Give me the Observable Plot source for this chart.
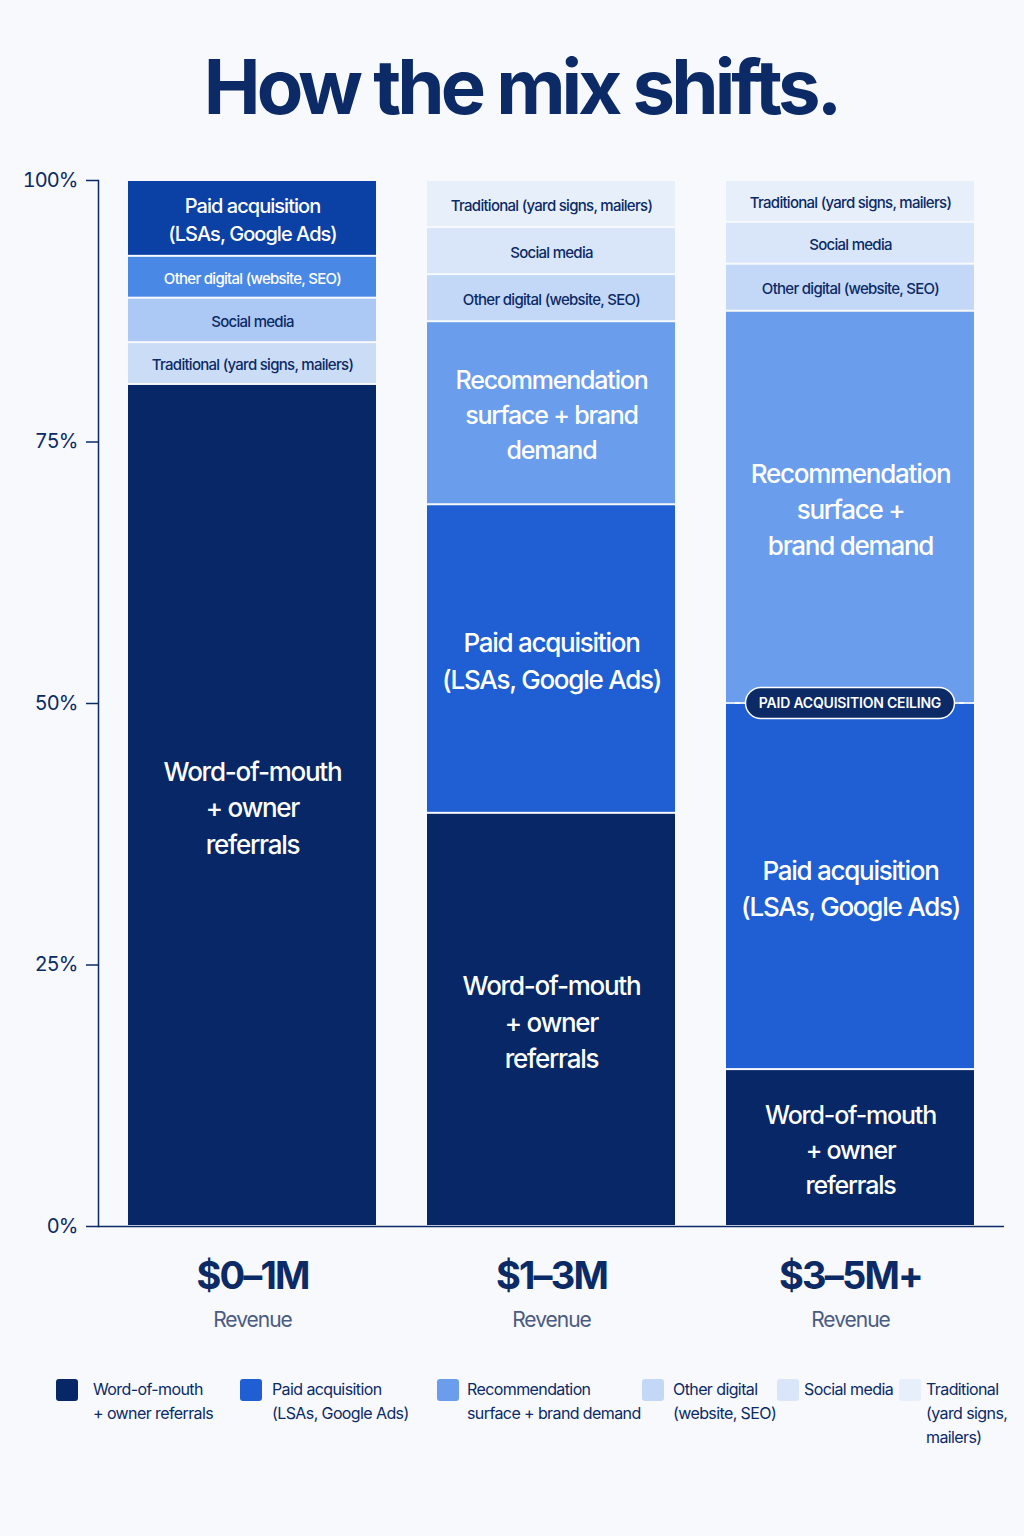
<!DOCTYPE html>
<html>
<head>
<meta charset="utf-8">
<script src="https://cdn.jsdelivr.net/npm/d3@7"></script>
<script src="https://cdn.jsdelivr.net/npm/@observablehq/plot@0.6"></script>
<style>
  html, body { margin: 0; padding: 0; background: #f7f9fc; }
  body { font-family: Inter, "Noto Sans", sans-serif; color: #0b2a66; }
  #page { position: relative; width: 1024px; height: 1536px; overflow: hidden; }
  #title { position: absolute; left: 9px; top: 46px; width: 1024px; margin: 0; text-align: center;
           font-size: 76px; line-height: 80px; font-weight: 700; letter-spacing: -3.9px; color: #0b2a66; }
  #chart { position: absolute; left: 0; top: 150px; }
  .mix text { letter-spacing: -0.048em; }
  #legend { position: absolute; left: 0; top: 1379px; width: 1024px; height: 100px; }
  .item { position: absolute; top: 0; }
  .swatch { position: absolute; left: 0; top: 0; width: 22px; height: 22px; border-radius: 3px; }
  .item span { position: absolute; top: -2px; font-size: 16px; line-height: 24px; letter-spacing: -0.6px;
               white-space: pre; color: #0b2a66; }
</style>
</head>
<body>
<div id="page">
  <h1 id="title">How the mix shifts.</h1>
  <div id="chart"></div>
  <div id="legend"></div>
</div>
<script>
// Revenue bands along the x axis
const bands = ["$0–1M", "$1–3M", "$3–5M+"];
const bandCaption = "Revenue";

// Acquisition channels (keys, in the default bottom-to-top stacking order)
const channelKeys = ["wom", "paid", "rec", "other", "social", "trad"];
const legendLabels = [
  "Word-of-mouth\n+ owner referrals",
  "Paid acquisition\n(LSAs, Google Ads)",
  "Recommendation\nsurface + brand demand",
  "Other digital\n(website, SEO)",
  "Social media",
  "Traditional\n(yard signs,\nmailers)"
];

// Share of new customers (%) per channel, aligned with channelKeys
const share_0_1M = [80.5, 7.25, 0, 4, 4.25, 4];
const share_1_3M = [39.5, 29.5, 17.5, 4.5, 4.5, 4.5];
const share_3_5M = [15, 35, 37.5, 4.5, 4, 4];

// Stacking order (bottom to top) per band
const order_0_1M = ["wom", "trad", "social", "other", "paid"];
const order_1_3M = ["wom", "paid", "rec", "other", "social", "trad"];
const order_3_5M = ["wom", "paid", "rec", "other", "social", "trad"];

// Labels written inside each segment, aligned with channelKeys
const labels_0_1M = ["Word-of-mouth\n+ owner\nreferrals", "Paid acquisition\n(LSAs, Google Ads)", "",
  "Other digital (website, SEO)", "Social media", "Traditional (yard signs, mailers)"];
const labels_1_3M = ["Word-of-mouth\n+ owner\nreferrals", "Paid acquisition\n(LSAs, Google Ads)",
  "Recommendation\nsurface + brand\ndemand", "Other digital (website, SEO)", "Social media",
  "Traditional (yard signs, mailers)"];
const labels_3_5M = ["Word-of-mouth\n+ owner\nreferrals", "Paid acquisition\n(LSAs, Google Ads)",
  "Recommendation\nsurface +\nbrand demand", "Other digital (website, SEO)", "Social media",
  "Traditional (yard signs, mailers)"];

// The ceiling marker sits on top of paid acquisition in the largest band
const ceilingBand = "$3–5M+";
const ceilingText = "PAID ACQUISITION CEILING";

// ---- styling ----
const navy = "#0b2a66";
const palette = { wom: "#072766", paid: "#1f5fd3", rec: "#6b9ded", other: "#c3d8f7", social: "#d9e6f9", trad: "#e7effb" };
// the smallest band shades its minor channels one step darker
const paletteSmall = { ...palette, paid: "#0b40a5", other: "#4a88e6", social: "#abc9f4", trad: "#cbddf6" };

const perBand = [
  { band: bands[0], shares: share_0_1M, order: order_0_1M, labels: labels_0_1M, colors: paletteSmall },
  { band: bands[1], shares: share_1_3M, order: order_1_3M, labels: labels_1_3M, colors: palette },
  { band: bands[2], shares: share_3_5M, order: order_3_5M, labels: labels_3_5M, colors: palette }
];

// rows in stacking order so Plot's default (input) order stacks them correctly
const rows = [];
for (const b of perBand) {
  for (const key of b.order) {
    const k = channelKeys.indexOf(key);
    if (!b.shares[k]) continue;
    rows.push({ band: b.band, key, share: b.shares[k], label: b.labels[k], color: b.colors[key] });
  }
}

const isDark = (c) => d3.lab(c).l < 70;
const labelSize = (s) => (s >= 25 ? 26 : s >= 10 ? 25 : s >= 6 ? 20 : 15);

const ceilingValue = d3.sum(rows.filter(r => r.band === ceilingBand && (r.key === "wom" || r.key === "paid")), r => r.share);

// pill + dashed rule marking the ceiling, placed through the chart's scales
function ceilingMark(index, scales) {
  const x0 = scales.x(ceilingBand);
  const bw = scales.x.bandwidth();
  const cy = scales.y(ceilingValue);
  const cx = x0 + bw / 2;
  const pillW = 209, pillH = 31;
  const g = d3.create("svg:g");
  g.append("line")
    .attr("x1", x0).attr("x2", x0 + bw).attr("y1", cy).attr("y2", cy)
    .attr("stroke", "#dbe7fb").attr("stroke-width", 2).attr("stroke-dasharray", "9,5");
  g.append("rect")
    .attr("x", cx - pillW / 2).attr("y", cy - pillH / 2)
    .attr("width", pillW).attr("height", pillH).attr("rx", pillH / 2)
    .attr("fill", navy).attr("stroke", "#ffffff").attr("stroke-width", 1.5);
  g.append("text")
    .attr("x", cx).attr("y", cy).attr("dy", "0.36em")
    .attr("text-anchor", "middle").attr("fill", "#ffffff")
    .attr("font-size", 14).attr("font-weight", 600)
    .style("letter-spacing", "-0.2px")
    .text(ceilingText);
  return g.node();
}

const chart = Plot.plot({
  className: "mix",
  width: 1024,
  height: 1200,
  marginTop: 30,
  marginBottom: 124,
  marginLeft: 98,
  marginRight: 20,
  style: { background: "transparent", fontFamily: "Inter, 'Noto Sans', sans-serif", color: navy },
  x: { domain: bands, paddingInner: 0.17, paddingOuter: 0.1, axis: null },
  y: { domain: [0, 100], axis: null },
  color: { type: "identity" },
  marks: [
    Plot.barY(rows, Plot.stackY({ x: "band", y: "share", fill: "color", insetTop: 1, insetBottom: 1 })),
    Plot.text(rows, Plot.stackY({
      x: "band", y: "share", text: "label",
      fill: d => (isDark(d.color) ? "#ffffff" : navy),
      fontSize: d => labelSize(d.share),
      fontWeight: 500, lineHeight: 1.4
    })),
    ceilingMark,
    Plot.axisY({ ticks: [0, 25, 50, 75, 100], tickFormat: d => `${d}%`, tickSize: 12, tickPadding: 9,
      fontSize: 20, strokeWidth: 1.5, label: null }),
    Plot.frame({ anchor: "left", stroke: navy, strokeWidth: 1.5 }),
    Plot.ruleY([0], { stroke: navy, strokeWidth: 1.5 }),
    Plot.text(bands, { x: d => d, text: d => d, frameAnchor: "bottom", dy: 62,
      fontSize: 38, fontWeight: 700, fill: navy }),
    Plot.text(bands, { x: d => d, text: () => bandCaption, frameAnchor: "bottom", dy: 100,
      fontSize: 21, fill: "#4b5b82" })
  ]
});
document.getElementById("chart").append(chart);

// legend: swatch position and text offset for each entry
const legendLeft = [56, 240, 437, 642, 777, 899];
const legendTextOffset = [37, 32, 30, 31, 27, 27];
const legend = d3.select("#legend");
channelKeys.forEach((key, i) => {
  const item = legend.append("div").attr("class", "item").style("left", legendLeft[i] + "px");
  item.append("div").attr("class", "swatch").style("background", palette[key]);
  item.append("span").style("left", legendTextOffset[i] + "px").text(legendLabels[i]);
});
</script>
</body>
</html>
